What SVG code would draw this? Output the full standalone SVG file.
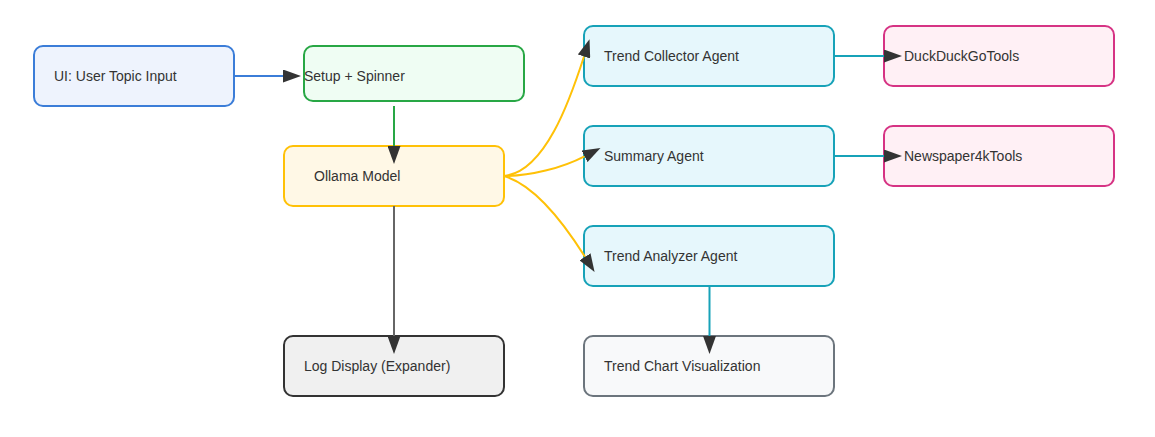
<svg xmlns="http://www.w3.org/2000/svg" width="1155" height="437" viewBox="0 0 1155 437">
  <defs>
    <style>
      .node rect { stroke-width: 2; }
      .node text { font-family: "Liberation Sans", Arial, sans-serif; font-size: 14px; fill: #333; }
      .edge { fill: none; stroke-width: 2; marker-end: url(#arrow); }
      .ui rect { fill: #eef3fd; stroke: #3b7dd8; }
      .setup rect { fill: #effdf3; stroke: #28a745; }
      .model rect { fill: #fff8e6; stroke: #ffc107; }
      .agent rect { fill: #e6f7fc; stroke: #17a2b8; }
      .tool rect { fill: #fff0f5; stroke: #d63384; }
      .log rect { fill: #f0f0f0; stroke: #333333; }
      .chart rect { fill: #f8f9fa; stroke: #6c757d; }
    </style>
    <marker id="arrow" viewBox="0 0 18 13" refX="0" refY="6.5" markerWidth="18" markerHeight="13" markerUnits="userSpaceOnUse" orient="auto">
      <path d="M0,0 L18,6.5 L0,13 z" fill="#333"/>
    </marker>
  </defs>

  <g id="ui" class="node ui">
    <rect x="34" y="46" width="200" height="60" rx="9"/>
    <text x="54" y="81">UI: User Topic Input</text>
  </g>
  <g id="setup" class="node setup">
    <rect x="304" y="46" width="220" height="55" rx="9"/>
    <text x="304" y="81">Setup + Spinner</text>
  </g>
  <g id="ollama" class="node model">
    <rect x="284" y="146" width="220" height="60" rx="9"/>
    <text x="314" y="181">Ollama Model</text>
  </g>
  <g id="collector" class="node agent">
    <rect x="584" y="26" width="250" height="60" rx="9"/>
    <text x="604" y="61">Trend Collector Agent</text>
  </g>
  <g id="summary" class="node agent">
    <rect x="584" y="126" width="250" height="60" rx="9"/>
    <text x="604" y="161">Summary Agent</text>
  </g>
  <g id="analyzer" class="node agent">
    <rect x="584" y="226" width="250" height="60" rx="9"/>
    <text x="604" y="261">Trend Analyzer Agent</text>
  </g>
  <g id="duckduckgo" class="node tool">
    <rect x="884" y="26" width="230" height="60" rx="9"/>
    <text x="904" y="61">DuckDuckGoTools</text>
  </g>
  <g id="newspaper" class="node tool">
    <rect x="884" y="126" width="230" height="60" rx="9"/>
    <text x="904" y="161">Newspaper4kTools</text>
  </g>
  <g id="log" class="node log">
    <rect x="284" y="336" width="220" height="60" rx="9"/>
    <text x="304" y="371">Log Display (Expander)</text>
  </g>
  <g id="chart" class="node chart">
    <rect x="584" y="336" width="250" height="60" rx="9"/>
    <text x="604" y="371">Trend Chart Visualization</text>
  </g>

  <g id="connectors">
    <path class="edge" stroke="#3b7dd8" d="M234,76 L283,76"/>
    <path class="edge" stroke="#28a745" d="M394,106 L394,146"/>
    <path class="edge" stroke="#666666" d="M394,206 L394,336"/>
    <path class="edge" stroke="#ffc107" d="M504,176 C545,172 570,100 584,56.5"/>
    <path class="edge" stroke="#ffc107" d="M504,176 C530,176 562,168 584.5,156.3"/>
    <path class="edge" stroke="#ffc107" d="M504,176 C535,185 565,225 585,256.8"/>
    <path class="edge" stroke="#17a2b8" d="M834,56 L884,56"/>
    <path class="edge" stroke="#17a2b8" d="M834,156 L884,156"/>
    <path class="edge" stroke="#17a2b8" d="M709.5,286 L709.5,336"/>
  </g>
</svg>
